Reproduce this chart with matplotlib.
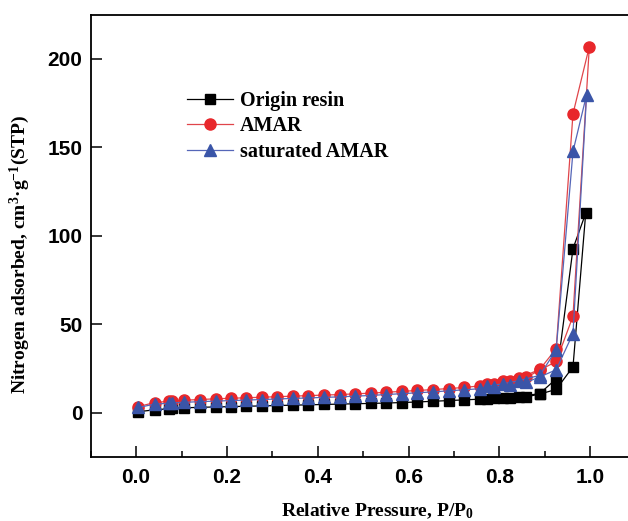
import matplotlib
matplotlib.use("Agg")
import matplotlib.pyplot as plt
from matplotlib.ticker import MultipleLocator

# relative pressure, adsorption branch then desorption branch
p_ads = [0.005, 0.041, 0.073, 0.080, 0.105, 0.141, 0.175, 0.209, 0.243, 0.278,
         0.311, 0.345, 0.379, 0.413, 0.448, 0.482, 0.517, 0.550, 0.585, 0.619,
         0.653, 0.688, 0.722, 0.757, 0.789, 0.824, 0.859, 0.889, 0.925, 0.962]
p_des = [0.962, 0.925, 0.889, 0.844, 0.808, 0.772]

# Origin resin
p_top_origin = 0.990
origin_ads = [0.6, 1.7, 2.3, 2.5, 2.8, 3.1, 3.3, 3.5, 3.7, 3.9,
              4.1, 4.3, 4.5, 4.7, 4.9, 5.1, 5.3, 5.5, 5.8, 6.1,
              6.5, 6.9, 7.3, 7.7, 8.1, 8.5, 9.0, 10.6, 13.2, 26.0]
origin_top = 112.8
origin_des = [92.8, 19.2, 10.9, 9.1, 8.5, 8.0]

# AMAR
p_top_amar = 0.998
amar_ads = [3.5, 5.8, 6.5, 6.7, 7.1, 7.5, 7.9, 8.2, 8.5, 8.8,
            9.1, 9.4, 9.7, 10.0, 10.3, 10.7, 11.1, 11.6, 12.1, 12.6,
            13.1, 13.7, 14.3, 15.2, 16.4, 17.8, 20.0, 24.1, 29.0, 54.6]
amar_top = 207.0
amar_des = [169.0, 36.2, 24.6, 19.6, 17.8, 16.3]

# saturated AMAR
p_top_sat = 0.992
sat_ads = [3.0, 4.9, 5.4, 5.6, 5.9, 6.3, 6.6, 6.9, 7.2, 7.5,
           7.8, 8.1, 8.4, 8.7, 9.0, 9.4, 9.8, 10.3, 10.8, 11.3,
           11.8, 12.4, 13.0, 13.6, 14.5, 15.7, 17.2, 20.3, 24.3, 44.8]
sat_top = 179.8
sat_des = [147.7, 35.6, 21.2, 18.2, 16.4, 15.0]

plt.rcParams['mathtext.fontset'] = 'custom'
plt.rcParams['mathtext.rm'] = 'Liberation Serif:bold'
plt.rcParams['mathtext.it'] = 'Liberation Serif:bold'
plt.rcParams['mathtext.bf'] = 'Liberation Serif:bold'

fig = plt.figure(figsize=(6.28, 5.21), dpi=100)
# right spine (x=1.1) falls just outside the picture, as in the original
ax = fig.add_axes([0.1444, 0.1228, 0.8678, 0.849])

series = [
    ("Origin resin", p_top_origin, origin_ads, origin_top, origin_des,
     "black", "black", "s", 7),
    ("AMAR", p_top_amar, amar_ads, amar_top, amar_des,
     "#e8272b", "#e0454a", "o", 8),
    ("saturated AMAR", p_top_sat, sat_ads, sat_top, sat_des,
     "#3a55a8", "#5566b8", "^", 8.5),
]

for name, ptop, ads, top, des, mcol, lcol, mk, ms in series:
    xs = p_ads + [ptop] + p_des
    ys = ads + [top] + des
    ax.plot(xs, ys, color=lcol, lw=0.9, marker=mk, ms=ms,
            markerfacecolor=mcol, markeredgecolor=mcol, label=name)

ax.set_xlim(-0.1, 1.1)
ax.set_ylim(-25, 225)
ax.xaxis.set_major_locator(MultipleLocator(0.2))
ax.xaxis.set_minor_locator(MultipleLocator(0.1))
ax.yaxis.set_major_locator(MultipleLocator(50))
ax.tick_params(axis='both', which='both', direction='in', top=False, right=False)
ax.tick_params(axis='x', which='major', length=8, width=1.1, pad=8)
ax.tick_params(axis='x', which='minor', length=4, width=1.1)
ax.tick_params(axis='y', which='major', length=8, width=1.1, pad=6)
for s in ax.spines.values():
    s.set_linewidth(1.3)

for lab in ax.get_xticklabels() + ax.get_yticklabels():
    lab.set_family(['Liberation Sans Narrow', 'Liberation Sans'])
    lab.set_fontweight('bold')
    lab.set_fontsize(15)

ax.set_xlabel(r"Relative Pressure, P/P$_\mathrm{0}$", family='Liberation Serif',
              fontweight='bold', fontsize=14)
ax.set_ylabel(r"Nitrogen adsorbed, cm$^\mathrm{3}$·g$^\mathrm{-1}$(STP)",
              family='Liberation Serif', fontweight='bold', fontsize=14)
ax.xaxis.set_label_coords(0.527, -0.10)
ax.yaxis.set_label_coords(-0.107, 0.457)

ax.legend(loc='upper left', bbox_to_anchor=(0.297, 0.826), bbox_transform=fig.transFigure,
          frameon=False, borderpad=0, borderaxespad=0, handlelength=2.3,
          handletextpad=0.35, labelspacing=0.28,
          prop={'family': 'Liberation Serif', 'weight': 'bold', 'size': 14.5})

fig.savefig("out.png", dpi=100)
